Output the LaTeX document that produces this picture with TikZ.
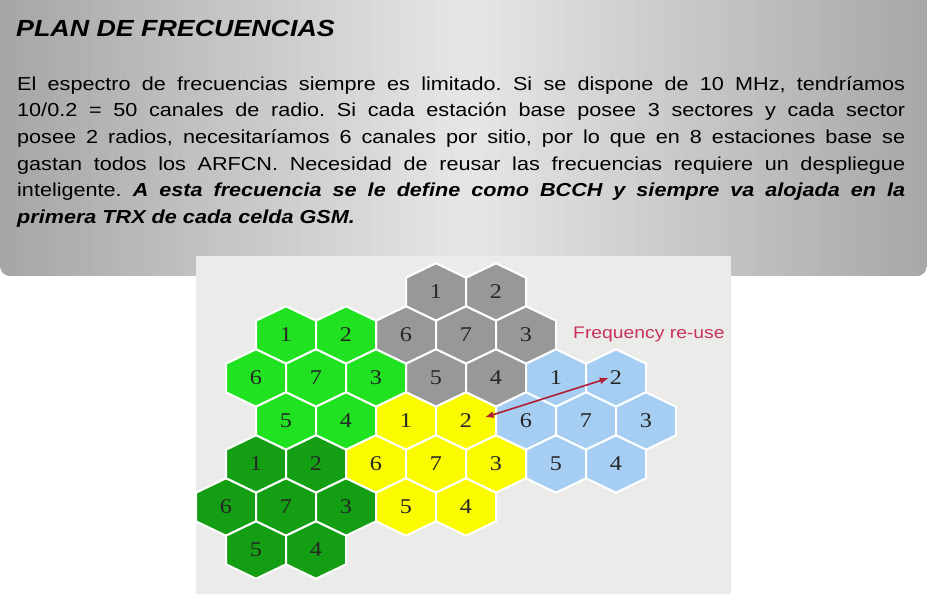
\documentclass[tikz,border=0pt]{standalone}
\usepackage{fontspec}
\setmainfont{Liberation Sans}[FakeStretch=1.15]
\newfontfamily\cellfont{Liberation Serif}[FakeStretch=1.15]
\usepackage{tikz}
\usetikzlibrary{arrows.meta}

\definecolor{bnrdark}{RGB}{166,166,166}
\definecolor{bnrlight}{RGB}{230,230,230}
\definecolor{insetbg}{RGB}{235,236,233}
\definecolor{cellgray}{RGB}{152,152,152}
\definecolor{cellgreen}{RGB}{32,226,32}
\definecolor{celldark}{RGB}{20,158,20}
\definecolor{cellyellow}{RGB}{250,250,0}
\definecolor{cellblue}{RGB}{166,206,242}
\definecolor{reusered}{RGB}{200,50,90}
\definecolor{arrowred}{RGB}{176,30,50}

\begin{document}
\begin{tikzpicture}[x=1pt, y=-1pt,
    hexedge/.style={draw=white, line width=2pt, line join=round},
    cellnum/.style={inner sep=1pt, text=black!85, font=\cellfont\fontsize{21}{23}\selectfont},
    reusearrow/.style={{Latex[length=9pt,width=7pt]}-{Latex[length=9pt,width=7pt]}, arrowred, line width=1.6pt}]
        \useasboundingbox (0,0) rectangle (927,594);
        \fill[white] (0,0) rectangle (927,594);

        % Draw the banner
        \begin{scope}
            \clip[rounded corners=10pt] (0,-20) rectangle (927,276);
            \foreach \k in {0,...,102}{
                \pgfmathtruncatemacro\mix{100*abs(\k-51)/51}
                \fill[bnrdark!\mix!bnrlight] (\k*9.1-0.5,-20) rectangle (\k*9.1+9.6,276);
            }
        \end{scope}
        \node[anchor=base west, inner sep=0pt, font=\bfseries\itshape\fontsize{23.3}{28}\selectfont]
            (title) at (16,36.7) {PLAN DE FRECUENCIAS};
        \node[anchor=north west, inner sep=0pt, text width=888pt, align=justify,
              font=\frenchspacing\fontsize{18.8}{26.7}\selectfont] (body) at (17,76) {%
            \spaceskip=0pt
            \makebox[888pt][s]{El espectro de frecuencias siempre es limitado. Si se dispone de 10 MHz, tendríamos}\\
            \makebox[888pt][s]{10/0.2 = 50 canales de radio. Si cada estación base posee 3 sectores y cada sector}\\
            \makebox[888pt][s]{posee 2 radios, necesitaríamos 6 canales por sitio, por lo que en 8 estaciones base se}\\
            \makebox[888pt][s]{gastan todos los ARFCN. Necesidad de reusar las frecuencias requiere un despliegue}\\
            \makebox[888pt][s]{inteligente. \textbf{\textit{A esta frecuencia se le define como BCCH y siempre va alojada en la}}}\\
            \textbf{\textit{primera TRX de cada celda GSM.}}};

        % Draw the picture
        \fill[insetbg] (196,256) rectangle (731,594);

        % Draw the clusters
        \foreach \clu/\ci/\cj/\col in {gry/0/0/cellgray, grn/-3/1/cellgreen, blu/1/2/cellblue,
                                       yel/-2/3/cellyellow, dkg/-5/4/celldark}{
            \foreach \di/\dj/\num in {0/-1/1, 1/-1/2, -1/0/6, 0/0/7, 1/0/3, -1/1/5, 0/1/4}{
                \pgfmathsetmacro\cx{466+(\ci+\di+(\cj+\dj)/2)*60}
                \pgfmathsetmacro\cy{335+(\cj+\dj)*43}
                \draw[hexedge, fill=\col] (\cx,\cy) +(0,-28.7) -- +(30,-14.3) -- +(30,14.3)
                    -- +(0,28.7) -- +(-30,14.3) -- +(-30,-14.3) -- cycle;
                \node[cellnum] (\clu-\num) at (\cx,\cy) {\num};
            }
        }

        % Draw the re-use
        \node[anchor=base west, inner sep=0pt, text=reusered, font=\fontsize{16.8}{20}\selectfont]
            (reuse) at (573,338) {Frequency re-use};
        \draw[reusearrow, shorten <=12pt] (yel-2.east) -- (blu-2.west);
    \end{tikzpicture}
\end{document}
